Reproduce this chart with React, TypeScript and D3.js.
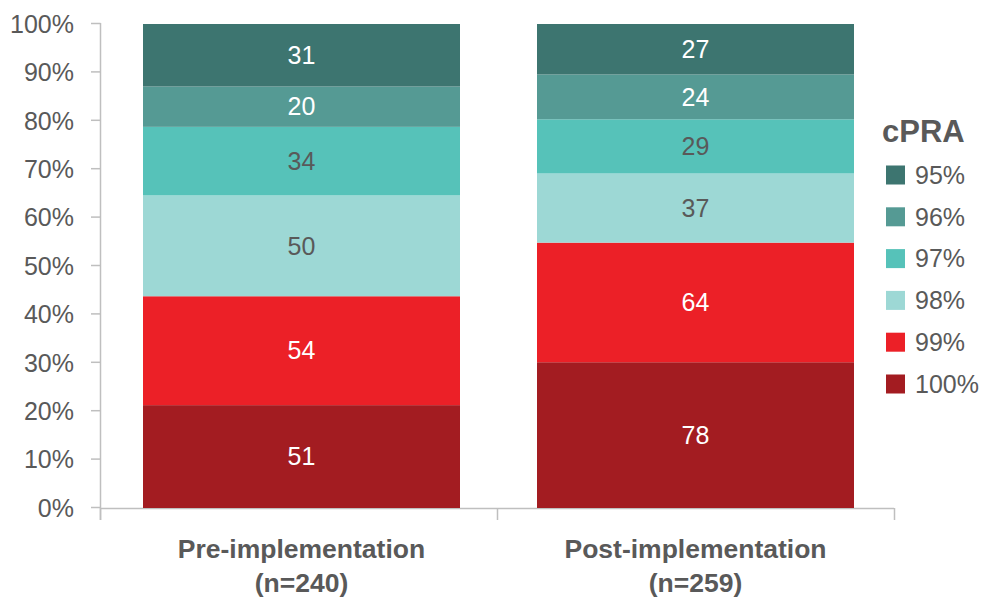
import React from "react";
import * as d3 from "d3";

// cPRA groups, stacked bottom (100%) to top (95%)
const groups = ["Pre-implementation", "Post-implementation"];
const groupCounts = ["(n=240)", "(n=259)"];
const levels = ["100%", "99%", "98%", "97%", "96%", "95%"];
const preCounts = [51, 54, 50, 34, 20, 31];
const postCounts = [78, 64, 37, 29, 24, 27];
const levelColors = ["#a31c21", "#ec2027", "#9dd8d5", "#56c2b9", "#559a94", "#3d7570"];
const labelColors = ["#ffffff", "#ffffff", "#595959", "#595959", "#ffffff", "#ffffff"];
const yTicks = [0, 10, 20, 30, 40, 50, 60, 70, 80, 90, 100];
const legendOrder = ["95%", "96%", "97%", "98%", "99%", "100%"];

const W = 982;
const H = 598;
const FONT = "'Liberation Sans', Arial, sans-serif";
const TEXT = "#595959";
const AXIS = "#bfbfbf";

export default function App() {
  // category slots for the axis ticks, and the bars placed inside them
  const slots = d3.scaleBand<string>().domain(groups).range([100, 894]);
  const x = d3.scaleBand<string>().domain(groups).range([143, 854]).paddingInner(77 / 394).paddingOuter(0);
  const y = d3.scaleLinear().domain([0, 100]).range([508, 24]);
  const color = d3.scaleOrdinal<string, string>().domain(levels).range(levelColors);

  const rows = groups.map((g, i) => {
    const counts = i === 0 ? preCounts : postCounts;
    const total = d3.sum(counts);
    const row: Record<string, number | string> = { group: g };
    levels.forEach((l, j) => (row[l] = (counts[j] / total) * 100));
    return { row, counts };
  });
  const stack = d3.stack<Record<string, number | string>>().keys(levels);
  const series = stack(rows.map((r) => r.row));

  const boundaries = [...groups.map((g) => slots(g) as number), slots.range()[1]];

  return (
    <svg
      width={W}
      height={H}
      style={{ position: "absolute", left: 0, top: 0, background: "#fff" }}
      fontFamily={FONT}
    >
      {/* y axis */}
      <line x1={100.5} x2={100.5} y1={y(100) - 1} y2={520} stroke={AXIS} strokeWidth={1.5} />
      {yTicks.map((t) => (
        <g key={t}>
          <line x1={91} x2={100.5} y1={y(t) - 0.5} y2={y(t) - 0.5} stroke={AXIS} strokeWidth={1.5} />
          <text x={74} y={y(t)} dy="0.35em" textAnchor="end" fontSize={25} fill={TEXT}>
            {t}%
          </text>
        </g>
      ))}
      {/* x axis */}
      <line x1={100} x2={894} y1={y(0) + 0.5} y2={y(0) + 0.5} stroke={AXIS} strokeWidth={1.5} />
      {boundaries.map((b, i) => (
        <line key={i} x1={b + 0.5} x2={b + 0.5} y1={y(0)} y2={520} stroke={AXIS} strokeWidth={1.5} />
      ))}

      {/* stacked bars */}
      {series.map((s, j) => (
        <g key={s.key} fill={color(s.key)}>
          {s.map((d, i) => {
            const g = groups[i];
            const y0 = y(d[0]);
            const y1 = y(d[1]);
            return (
              <g key={g}>
                <rect x={x(g)} y={y1} width={x.bandwidth()} height={y0 - y1} />
                <text
                  x={(x(g) as number) + x.bandwidth() / 2}
                  y={(y0 + y1) / 2}
                  dy="0.35em"
                  textAnchor="middle"
                  fontSize={25}
                  fill={labelColors[j]}
                >
                  {rows[i].counts[j]}
                </text>
              </g>
            );
          })}
        </g>
      ))}

      {/* category labels */}
      {groups.map((g, i) => {
        const cx = (x(g) as number) + x.bandwidth() / 2;
        return (
          <text key={g} textAnchor="middle" fontSize={26.5} fontWeight="bold" fill={TEXT}>
            <tspan x={cx} y={558}>
              {g}
            </tspan>
            <tspan x={cx} y={592}>
              {groupCounts[i]}
            </tspan>
          </text>
        );
      })}

      {/* legend */}
      <text x={882} y={142} fontSize={31} fontWeight="bold" fill={TEXT}>
        cPRA
      </text>
      {legendOrder.map((l, i) => {
        const cy = 175 + i * 41.8;
        return (
          <g key={l}>
            <rect x={886} y={cy - 9.5} width={19} height={19} fill={color(l)} />
            <text x={915} y={cy} dy="0.35em" fontSize={25} fill={TEXT}>
              {l}
            </text>
          </g>
        );
      })}
    </svg>
  );
}
